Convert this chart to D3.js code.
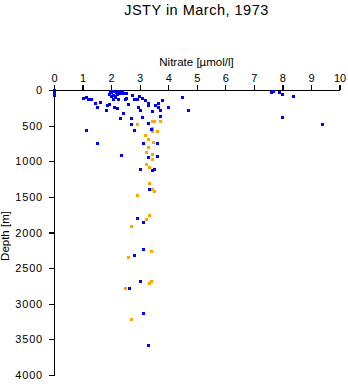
<!DOCTYPE html>
<html><head><meta charset="utf-8">
<script src="https://cdn.jsdelivr.net/npm/d3@7"></script>
<style>
html,body{margin:0;padding:0;background:#fff;}
svg{display:block;font-family:"Liberation Sans",Arial,Helvetica,sans-serif;}
</style></head>
<body>
<svg id="c" width="348" height="384"></svg>
<script>
const title = "JSTY in March, 1973";
const xLabel = "Nitrate [\u00b5mol/l]";
const yLabel = "Depth [m]";
const xTicks = [0,1,2,3,4,5,6,7,8,9,10];
const yTicks = [0,500,1000,1500,2000,2500,3000,3500,4000];

// Blue series: nitrate [µmol/l] and depth [m]
const blueNitrate = [0,0,0,1.03,1.12,1.20,1.30,1.44,1.52,1.61,1.81,1.92,2.11,
  1.96,2.08,2.25,2.37,1.94,2.06,2.20,2.31,2.43,2.14,2.25,2.49,2.08,2.52,2.52,2.72,2.81,2.90,2.99,3.07,3.19,3.30,3.28,
  3.54,3.63,3.79,3.65,3.71,3.71,3.42,2.93,3.01,2.60,4.00,4.49,4.70,2.71,3.09,3.30,2.71,2.81,3.40,2.41,2.31,1.85,2.20,
  1.11,1.52,2.34,3.11,3.62,3.62,3.30,3.01,3.42,3.51,3.32,2.92,3.11,3.11,2.81,3.01,2.62,3.11,3.30,
  7.59,7.68,7.89,7.99,8.38,7.99,9.40,
  2.00,2.18,2.33,1.98,2.12];
const blueDepth = [7,42,77,112,98,130,130,187,239,164,285,201,239,
  10,18,10,10,56,66,56,46,46,102,122,122,130,46,112,70,122,130,84,108,140,178,211,
  215,187,145,234,285,365,295,243,285,192,243,102,285,397,375,467,473,566,552,327,389,206,253,
  566,748,916,744,744,922,936,1109,1123,1109,1385,1801,1857,2236,2320,2685,2783,3134,3575,
  24,10,28,56,80,383,477,
  30,35,28,85,80];

// Orange series
const orangeNitrate = [2.92,3.42,3.51,3.71,3.42,3.42,3.60,3.19,3.30,3.46,3.30,3.22,3.42,3.42,3.21,3.32,
  3.32,3.42,3.51,2.92,3.32,3.21,2.71,3.41,2.60,3.41,3.32,2.50,2.71];
const orangeDepth = [481,435,435,435,529,575,580,632,692,734,796,866,902,973,1043,1076,
  1309,1385,1422,1478,1754,1815,1909,2260,2340,2685,2713,2775,3218];

const svg = d3.select("#c");
const x = d3.scaleLinear().domain([0,10]).range([54,339.5]);
const y = d3.scaleLinear().domain([0,4000]).range([90,375]);

svg.append("text").attr("x",196.5).attr("y",15).attr("text-anchor","middle")
  .attr("font-size",14.5).attr("letter-spacing",0.5).attr("fill","#000").text(title);
svg.append("text").attr("x",196.5).attr("y",66).attr("text-anchor","middle")
  .attr("font-size",11.5).attr("fill","#000").text(xLabel);
svg.append("text").attr("transform","translate(9,236) rotate(-90)").attr("text-anchor","middle")
  .attr("font-size",11.5).attr("fill","#000").text(yLabel);

const gx = svg.append("g").attr("transform","translate(0,90)")
  .call(d3.axisTop(x).tickValues(xTicks).tickSize(5).tickSizeOuter(0).tickPadding(3).tickFormat(d3.format("d")));
const gy = svg.append("g").attr("transform","translate(54,0)")
  .call(d3.axisLeft(y).tickValues(yTicks).tickSize(5).tickSizeOuter(0).tickPadding(6).tickFormat(d3.format("d")));
[gx,gy].forEach(g=>{
  g.attr("font-family","'Liberation Sans',Arial,Helvetica,sans-serif").attr("font-size",11);
  g.selectAll("path,line").attr("stroke","#000").attr("stroke-width",1.2).attr("shape-rendering","crispEdges");
  g.selectAll("text").attr("fill","#000");
});
gy.selectAll("text").attr("letter-spacing",0.8);

const orange = orangeNitrate.map((v,i)=>({v, d: orangeDepth[i]}));
const blue = blueNitrate.map((v,i)=>({v, d: blueDepth[i]}));
svg.append("g").selectAll("rect").data(orange).join("rect")
  .attr("x",p=>Math.round(x(p.v))-1).attr("y",p=>Math.round(y(p.d))-1)
  .attr("width",3).attr("height",3).attr("fill","#ffa500").attr("shape-rendering","crispEdges");
svg.append("g").selectAll("rect").data(blue).join("rect")
  .attr("x",p=>Math.round(x(p.v))-1).attr("y",p=>Math.round(y(p.d))-1)
  .attr("width",3).attr("height",3).attr("fill","#0000ff").attr("shape-rendering","crispEdges");
</script>
</body></html>
